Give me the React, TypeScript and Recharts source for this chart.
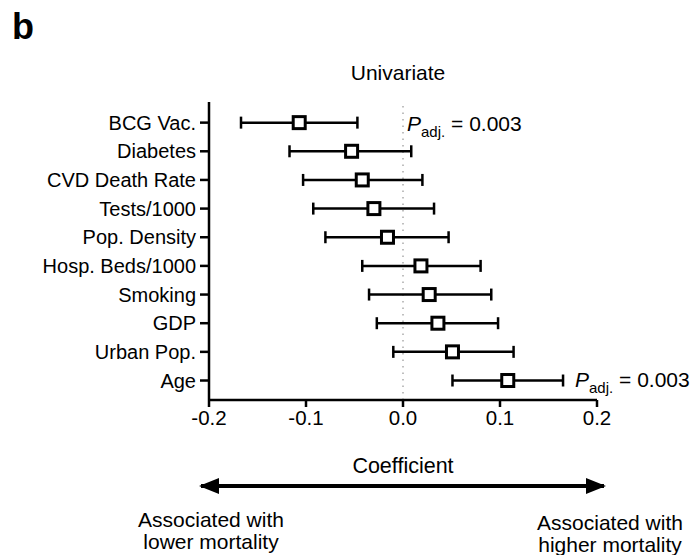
import React from "react";
import {
    ScatterChart,
    Scatter,
    XAxis,
    YAxis,
    ErrorBar,
    ReferenceLine,
} from "recharts";

const categories = [
    "BCG Vac.",
    "Diabetes",
    "CVD Death Rate",
    "Tests/1000",
    "Pop. Density",
    "Hosp. Beds/1000",
    "Smoking",
    "GDP",
    "Urban Pop.",
    "Age",
];
const coefficients = [-0.107, -0.053, -0.042, -0.030, -0.016, 0.0185, 0.027, 0.036, 0.051, 0.108];
const lowerCI = [-0.167, -0.117, -0.103, -0.0925, -0.080, -0.042, -0.035, -0.027, -0.010, 0.051];
const upperCI = [-0.047, 0.0085, 0.020, 0.032, 0.047, 0.080, 0.091, 0.098, 0.114, 0.165];
const xTicks = [-0.2, -0.1, 0, 0.1, 0.2];

const FONT = "'Liberation Sans', Arial, sans-serif";

const data = categories.map((name, i) => ({
    name,
    row: i,
    coef: coefficients[i],
    err: [coefficients[i] - lowerCI[i], upperCI[i] - coefficients[i]],
}));

function SquareMarker(props: any) {
    const { cx, cy } = props;
    return (
        <rect x={cx - 6} y={cy - 6} width={12} height={12} fill="#fff" stroke="#000" strokeWidth={3} />
    );
}

function PAdj({ x, y }: { x: number; y: number }) {
    return (
        <text x={x} y={y} fontFamily={FONT} fontSize={21} fill="#000">
            <tspan fontStyle="italic">P</tspan>
            <tspan fontSize={15} dy={6}>adj.</tspan>
            <tspan dy={-6}> = 0.003</tspan>
        </text>
    );
}

export default function App() {
    return (
        <div style={{ position: "absolute", left: 0, top: 0, width: 693, height: 555, background: "#fff" }}>
            <ScatterChart
                width={693}
                height={555}
                margin={{ top: 102, right: 96, bottom: 125, left: 0 }}
            >
                <XAxis
                    type="number"
                    dataKey="coef"
                    domain={[-0.2, 0.2]}
                    ticks={xTicks}
                    tickFormatter={(v: number) => v.toFixed(1)}
                    height={30}
                    tickSize={7}
                    tickMargin={3}
                    axisLine={{ stroke: "#000", strokeWidth: 2.5 }}
                    tickLine={{ stroke: "#000", strokeWidth: 2.5 }}
                    tick={{ fill: "#000", fontSize: 20.5, fontFamily: FONT }}
                    allowDataOverflow
                />
                <YAxis
                    type="number"
                    dataKey="row"
                    domain={[-0.72, 9.68]}
                    reversed
                    ticks={categories.map((_, i) => i)}
                    tickFormatter={(v: number) => categories[v] ?? ""}
                    width={209}
                    tickSize={9}
                    tickMargin={4}
                    axisLine={{ stroke: "#000", strokeWidth: 2.5 }}
                    tickLine={{ stroke: "#000", strokeWidth: 2.5 }}
                    tick={{ fill: "#000", fontSize: 20, fontFamily: FONT }}
                    allowDataOverflow
                />
                <ReferenceLine x={0} stroke="#aaa" strokeWidth={1.5} strokeDasharray="1.5 5" />
                <Scatter data={data} shape={<SquareMarker />} isAnimationActive={false}>
                    <ErrorBar dataKey="err" direction="x" width={6} stroke="#000" strokeWidth={2.5} />
                </Scatter>
            </ScatterChart>
            <svg
                width={693}
                height={555}
                style={{ position: "absolute", left: 0, top: 0, pointerEvents: "none" }}
            >
                <defs>
                    <marker id="head" markerWidth={5} markerHeight={4} refX={4.5} refY={2} orient="auto-start-reverse" markerUnits="strokeWidth">
                        <path d="M0,0 L5,2 L0,4 z" fill="#000" />
                    </marker>
                </defs>
                <text x={12} y={39} fontFamily={FONT} fontSize={36} fontWeight="bold" fill="#000">b</text>
                <text x={398} y={80} textAnchor="middle" fontFamily={FONT} fontSize={21} fill="#000">Univariate</text>
                <PAdj x={407} y={131} />
                <PAdj x={575} y={387} />
                <text x={403} y={473} textAnchor="middle" fontFamily={FONT} fontSize={21.5} fill="#000">Coefficient</text>
                <line x1={201} y1={486} x2={604} y2={486} stroke="#000" strokeWidth={4} markerStart="url(#head)" markerEnd="url(#head)" />
                <text x={211} y={527} textAnchor="middle" fontFamily={FONT} fontSize={21} fill="#000">Associated with</text>
                <text x={211} y={549} textAnchor="middle" fontFamily={FONT} fontSize={21} fill="#000">lower mortality</text>
                <text x={610} y={530} textAnchor="middle" fontFamily={FONT} fontSize={21} fill="#000">Associated with</text>
                <text x={610} y={552} textAnchor="middle" fontFamily={FONT} fontSize={21} fill="#000">higher mortality</text>
            </svg>
        </div>
    );
}
